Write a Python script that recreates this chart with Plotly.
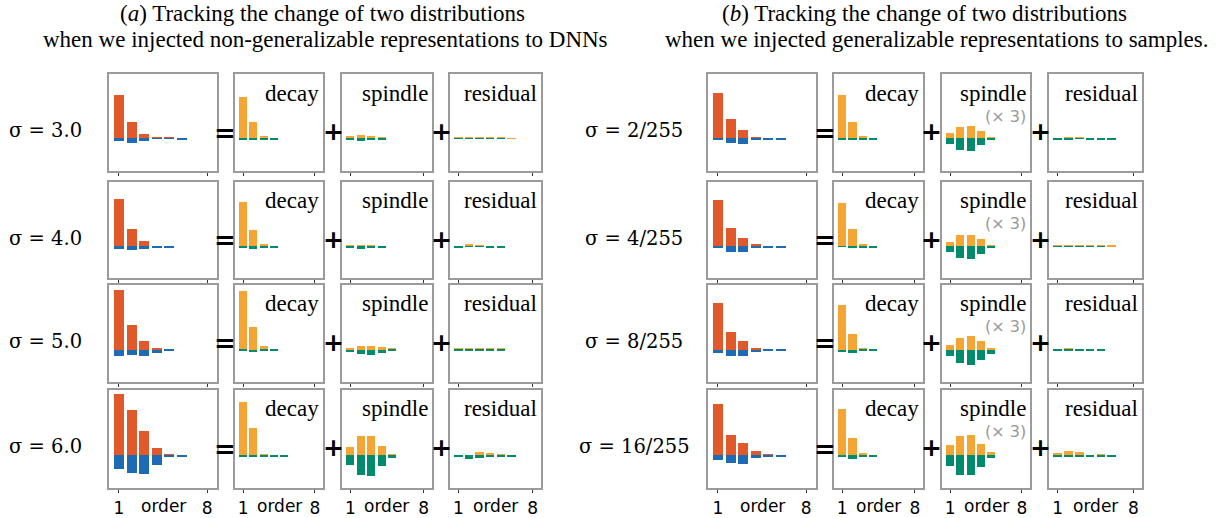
import plotly.graph_objects as go

# ---------------- data ----------------
orders = [1, 2, 3, 4, 5, 6, 7, 8]
tick_labels = ["1", "8"]
axis_word = "order"
a_row_labels = ["σ = 3.0", "σ = 4.0", "σ = 5.0", "σ = 6.0"]
b_row_labels = ["σ = 2/255", "σ = 4/255", "σ = 8/255", "σ = 16/255"]
component_names = ["decay", "spindle", "residual"]
spindle_scale_note = "(× 3)"
title_a = ["(<i>a</i>) Tracking the change of two distributions",
           "when we injected non-generalizable representations to DNNs"]
title_b = ["(<i>b</i>) Tracking the change of two distributions",
           "when we injected generalizable representations to samples."]

# panel (a)
a_main_pos = [[1.34, 0.49, 0.13, 0.03, 0.03, 0, 0, 0],
              [1.47, 0.52, 0.17, 0, 0, 0, 0, 0],
              [1.84, 0.78, 0.27, 0.03, 0, 0, 0, 0],
              [1.89, 1.38, 0.76, 0.22, 0.04, 0, 0, 0]]
a_main_neg = [[-0.08, -0.15, -0.10, -0.01, -0.01, -0.03, 0, 0],
              [-0.08, -0.11, -0.10, -0.03, -0.03, 0, 0, 0],
              [-0.19, -0.16, -0.18, -0.09, -0.03, 0, 0, 0],
              [-0.41, -0.52, -0.56, -0.29, -0.05, -0.03, 0, 0]]
a_decay_pos = [[1.29, 0.50, 0.08, 0, 0, 0, 0, 0],
               [1.38, 0.50, 0.06, 0, 0, 0, 0, 0],
               [1.81, 0.70, 0.13, 0, 0, 0, 0, 0],
               [1.62, 0.83, 0.06, 0, 0, 0, 0, 0]]
a_decay_neg = [[-0.03, -0.06, -0.03, -0.03, 0, 0, 0, 0],
               [-0.07, -0.10, -0.06, -0.03, 0, 0, 0, 0],
               [-0.05, -0.08, -0.05, -0.03, 0, 0, 0, 0],
               [-0.06, -0.06, -0.03, -0.03, -0.03, 0, 0, 0]]
a_spindle_pos = [[0.07, 0.09, 0.07, 0.04, 0, 0, 0, 0],
                 [0.04, 0.05, 0.04, 0, 0, 0, 0, 0],
                 [0.06, 0.12, 0.12, 0.09, 0.04, 0, 0, 0],
                 [0.27, 0.60, 0.60, 0.30, 0.06, 0, 0, 0]]
a_spindle_neg = [[-0.06, -0.08, -0.07, -0.03, 0, 0, 0, 0],
                 [-0.05, -0.08, -0.05, -0.03, 0, 0, 0, 0],
                 [-0.07, -0.13, -0.16, -0.10, -0.03, 0, 0, 0],
                 [-0.30, -0.61, -0.64, -0.33, -0.09, 0, 0, 0]]
a_residual_pos = [[0.03, 0.04, 0.04, 0.02, 0.02, 0.005, 0, 0],
                  [0, 0.06, 0.04, 0, 0, 0, 0, 0],
                  [0.03, 0.03, 0.06, 0.04, 0.04, 0, 0, 0],
                  [0, 0, 0.12, 0.09, 0.03, 0, 0, 0]]
a_residual_neg = [[-0.02, -0.02, -0.02, -0.02, -0.02, 0, 0, 0],
                  [-0.03, -0.02, -0.02, -0.03, -0.03, 0, 0, 0],
                  [-0.05, -0.05, -0.02, -0.02, -0.02, 0, 0, 0],
                  [-0.03, -0.10, -0.07, -0.05, -0.02, -0.03, 0, 0]]

# panel (b)
b_main_pos = [[1.41, 0.59, 0.25, 0.03, 0, 0, 0, 0],
              [1.43, 0.58, 0.27, 0.07, 0, 0, 0, 0],
              [1.44, 0.56, 0.27, 0.06, 0, 0, 0, 0],
              [1.57, 0.63, 0.38, 0.13, 0.04, 0, 0, 0]]
b_main_neg = [[-0.06, -0.15, -0.18, -0.05, -0.03, -0.03, 0, 0],
              [-0.05, -0.18, -0.18, -0.05, -0.03, -0.03, 0, 0],
              [-0.10, -0.20, -0.20, -0.08, -0.03, -0.03, 0, 0],
              [-0.14, -0.23, -0.27, -0.09, -0.02, -0.03, 0, 0]]
b_decay_pos = [[1.35, 0.50, 0.07, 0, 0, 0, 0, 0],
               [1.34, 0.52, 0.08, 0, 0, 0, 0, 0],
               [1.37, 0.49, 0.06, 0, 0, 0, 0, 0],
               [1.41, 0.54, 0.08, 0, 0, 0, 0, 0]]
b_decay_neg = [[-0.03, -0.05, -0.03, -0.03, 0, 0, 0, 0],
               [-0.02, -0.06, -0.03, -0.03, 0, 0, 0, 0],
               [-0.07, -0.09, -0.04, -0.03, 0, 0, 0, 0],
               [-0.06, -0.11, -0.06, -0.03, 0, 0, 0, 0]]
b_spindle_pos = [[0.15, 0.34, 0.38, 0.23, 0.04, 0, 0, 0],
                 [0.14, 0.34, 0.36, 0.21, 0.05, 0, 0, 0],
                 [0.14, 0.36, 0.42, 0.28, 0.06, 0, 0, 0],
                 [0.31, 0.61, 0.64, 0.34, 0.10, 0, 0, 0]]
b_spindle_neg = [[-0.18, -0.36, -0.39, -0.21, -0.04, 0, 0, 0],
                 [-0.19, -0.37, -0.40, -0.23, -0.06, 0, 0, 0],
                 [-0.18, -0.40, -0.46, -0.31, -0.12, 0, 0, 0],
                 [-0.31, -0.60, -0.60, -0.34, -0.09, 0, 0, 0]]
b_residual_pos = [[0, 0.02, 0.02, 0, 0, 0, 0, 0],
                  [0.02, 0.03, 0.03, 0.02, 0.02, 0.01, 0, 0],
                  [0.01, 0.04, 0.02, 0.02, 0, 0, 0, 0],
                  [0.07, 0.13, 0.10, 0, 0.03, 0, 0, 0]]
b_residual_neg = [[-0.03, -0.03, -0.02, -0.03, -0.03, -0.03, 0, 0],
                  [-0.02, -0.02, -0.02, -0.02, -0.02, 0, 0, 0],
                  [-0.01, -0.01, -0.02, -0.04, -0.03, 0, 0, 0],
                  [-0.02, -0.06, -0.03, -0.03, -0.02, -0.03, 0, 0]]

# ---------------- layout constants ----------------
W, H = 1228, 518
MAIN_POS, MAIN_NEG = "#E1582B", "#1D6BB5"
COMP_POS, COMP_NEG = "#F5A533", "#008B6C"
BOX = "#9b9b9b"
SERIF = "Liberation Serif, Times New Roman, serif"
SANS = "DejaVu Sans, sans-serif"

panels = [
    dict(cols=[(109, 217), (235, 323), (342, 432), (450, 541)],
         labels=a_row_labels, label_x=45, eq_x=225, plus_x=[333, 441],
         title=title_a, title_x=[322, 325], note=False,
         data=[(a_main_pos, a_main_neg), (a_decay_pos, a_decay_neg),
               (a_spindle_pos, a_spindle_neg), (a_residual_pos, a_residual_neg)]),
    dict(cols=[(708, 816), (834, 923), (942, 1030), (1049, 1142)],
         labels=b_row_labels, label_x=634, eq_x=825, plus_x=[931, 1040],
         title=title_b, title_x=[924, 936], note=True,
         data=[(b_main_pos, b_main_neg), (b_decay_pos, b_decay_neg),
               (b_spindle_pos, b_spindle_neg), (b_residual_pos, b_residual_neg)]),
]
rows_px = [(75, 172), (183, 280), (287, 385), (393, 492)]


def fx(px):
    return px / W


def fy(py):
    return 1 - py / H


fig = go.Figure()
layout = {}
annotations = []
k = 0
for p in panels:
    for r, (top, bot) in enumerate(rows_px):
        for c, (left, right) in enumerate(p["cols"]):
            k += 1
            xa = "x" if k == 1 else f"x{k}"
            ya = "y" if k == 1 else f"y{k}"
            pos_vals = p["data"][c][0][r]
            neg_vals = p["data"][c][1][r]
            cpos, cneg = (MAIN_POS, MAIN_NEG) if c == 0 else (COMP_POS, COMP_NEG)
            for vals, col in ((pos_vals, cpos), (neg_vals, cneg)):
                fig.add_trace(go.Bar(x=orders, y=vals, width=0.8, xaxis=xa, yaxis=ya,
                                     marker=dict(color=col, line=dict(width=0)),
                                     showlegend=False, hoverinfo="skip"))
            bottom_row = (r == len(rows_px) - 1)
            layout["xaxis" if k == 1 else f"xaxis{k}"] = dict(
                domain=[fx(left), fx(right)], anchor=ya, range=[0.21, 8.79],
                showline=True, mirror=True, linecolor=BOX, linewidth=2,
                ticks="outside", tickvals=[1, 8], ticktext=tick_labels, ticklen=3,
                tickwidth=1, tickcolor="#333", showgrid=False, zeroline=False,
                showticklabels=bottom_row, tickfont=dict(family=SANS, size=17, color="black"),
                fixedrange=True)
            layout["yaxis" if k == 1 else f"yaxis{k}"] = dict(
                domain=[fy(bot), fy(top)], anchor=xa, range=[-1, 2],
                showline=True, mirror=True, linecolor=BOX, linewidth=2,
                ticks="", showticklabels=False, showgrid=False, zeroline=False,
                fixedrange=True)
            if c > 0:
                annotations.append(dict(x=fx(right - 2), y=fy(top + 19), xref="paper", yref="paper",
                                        text=component_names[c - 1], showarrow=False,
                                        xanchor="right", yanchor="middle",
                                        font=dict(family=SERIF, size=23, color="black")))
                if c == 2 and p["note"]:
                    annotations.append(dict(x=fx(right - 2), y=fy(top + 42), xref="paper", yref="paper",
                                            text=spindle_scale_note, showarrow=False,
                                            xanchor="right", yanchor="middle",
                                            font=dict(family=SANS, size=16, color="#999999")))
            if bottom_row:
                annotations.append(dict(x=fx((left + right) / 2), y=fy(510), xref="paper", yref="paper",
                                        text=axis_word, showarrow=False,
                                        xanchor="center", yanchor="middle",
                                        font=dict(family=SANS, size=17, color="black")))
        # row label and operators
        annotations.append(dict(x=fx(p["label_x"]), y=fy(top + 57), xref="paper", yref="paper",
                                text=p["labels"][r], showarrow=False, xanchor="center", yanchor="middle",
                                font=dict(family="DejaVu Serif, serif", size=19.5, color="black")))
        annotations.append(dict(x=fx(p["eq_x"]), y=fy(top + 59), xref="paper", yref="paper",
                                text="<b>=</b>", showarrow=False, xanchor="center", yanchor="middle",
                                font=dict(family=SANS, size=26, color="black")))
        for px_ in p["plus_x"]:
            annotations.append(dict(x=fx(px_), y=fy(top + 58), xref="paper", yref="paper",
                                    text="<b>+</b>", showarrow=False, xanchor="center", yanchor="middle",
                                    font=dict(family=SANS, size=25, color="black")))
    for i, line in enumerate(p["title"]):
        annotations.append(dict(x=fx(p["title_x"][i]), y=fy(14 + 26 * i), xref="paper", yref="paper",
                                text=line, showarrow=False, xanchor="center", yanchor="middle",
                                font=dict(family=SERIF, size=23, color="black")))

fig.update_layout(**layout)
fig.update_layout(width=W, height=H, margin=dict(l=0, r=0, t=0, b=0),
                  paper_bgcolor="white", plot_bgcolor="white", barmode="overlay",
                  bargap=0, showlegend=False, annotations=annotations)
fig.write_html("out.html", config=dict(displayModeBar=False))
